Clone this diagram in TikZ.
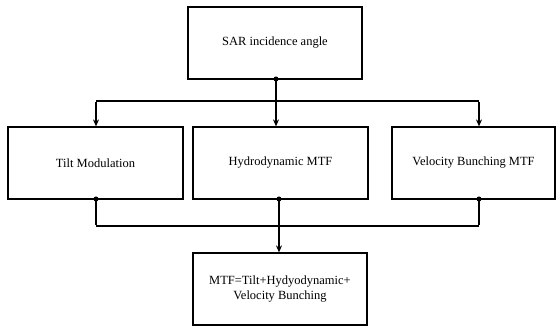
\documentclass[tikz,border=0pt]{standalone}
\usepackage{fontspec}
\setmainfont{Liberation Serif}
\usetikzlibrary{arrows.meta}
\begin{document}
\begin{tikzpicture}[x=1pt,y=-1pt,
  box/.style={draw,line width=1.2pt,inner sep=0pt,align=center,font=\fontsize{12.5}{15.5}\selectfont},
  conn/.style={line width=1.8pt},
  bus/.style={line width=2.6pt},
  arr/.style={conn,-{Stealth[length=7pt,width=6pt]}},
  dot/.style={circle,fill,inner sep=0pt,minimum size=5pt}]
\useasboundingbox (0,0) rectangle (560,328);
\node[box,minimum width=174pt,minimum height=72pt] (sar) at (275,43) {SAR incidence angle};
\node[box,minimum width=175pt,minimum height=72pt] (tilt) at (95.5,163) {Tilt Modulation};
\node[box,minimum width=175pt,minimum height=72pt] (hydro) at (280.5,163) {Hydrodynamic MTF};
\node[box,minimum width=163pt,minimum height=72pt] (vel) at (473.5,163) {Velocity Bunching MTF};
\node[box,minimum width=174pt,minimum height=72pt] (mtf) at (280,289) {MTF=Tilt+Hydyodynamic+\\Velocity Bunching};
% top connectors
\coordinate (s0) at (276,79);
\coordinate (b1) at (96,101);
\coordinate (b2) at (479,101);
\node[dot] (d0) at (s0) {};
\draw[arr] (d0.center) -- (d0.center |- hydro.north);
\draw[bus] (b1) -- (b2);
\draw[arr] ([yshift=-1.3pt]b1) -- (b1 |- tilt.north);
\draw[arr] ([yshift=-1.3pt]b2) -- (b2 |- vel.north);
% bottom connectors
\node[dot] (d1) at (96,199) {};
\node[dot] (d2) at (279,199) {};
\node[dot] (d3) at (479,199) {};
\coordinate (c1) at (96,226);
\coordinate (c3) at (479,226);
\draw[conn] (d1.center) -- ([yshift=1.3pt]c1);
\draw[conn] (d3.center) -- ([yshift=1.3pt]c3);
\draw[bus] (c1) -- (c3);
\draw[arr] (d2.center) -- (d2.center |- mtf.north);
\end{tikzpicture}
\end{document}
